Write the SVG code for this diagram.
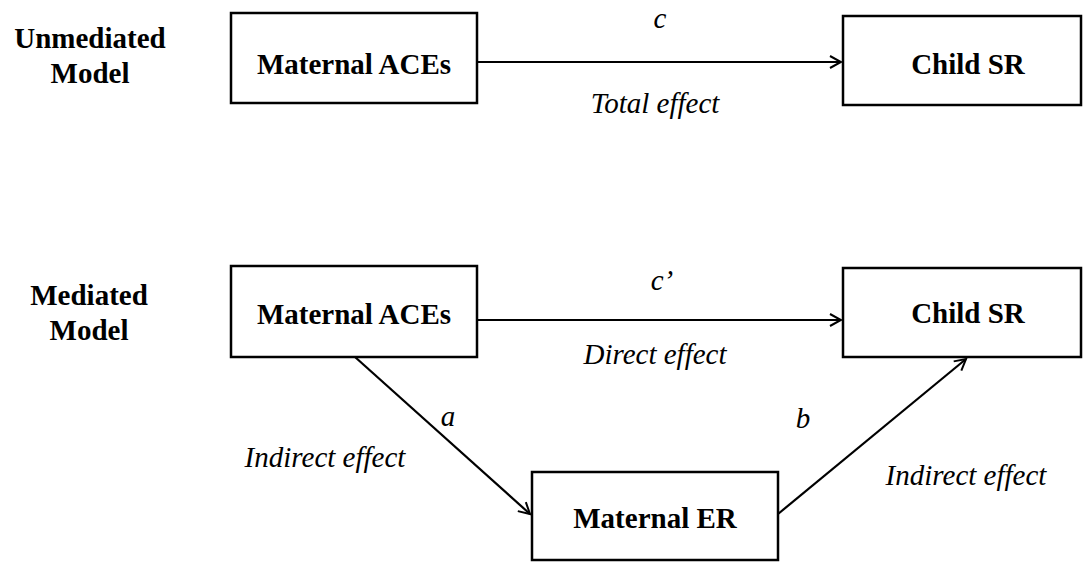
<svg xmlns="http://www.w3.org/2000/svg" width="1083" height="563" viewBox="0 0 1083 563">
<defs>
<marker id="arr" markerWidth="14" markerHeight="14" refX="12" refY="7" orient="auto" markerUnits="userSpaceOnUse">
<path d="M1,1 L12,7 L1,13" fill="none" stroke="#000" stroke-width="2"/>
</marker>
</defs>
<style>
.box{fill:#fff;stroke:#000;stroke-width:2.5}
.nl{font-family:"Liberation Serif","Times New Roman",serif;font-weight:bold;font-size:29px;text-anchor:middle}
.lab{font-family:"Liberation Serif","Times New Roman",serif;font-style:italic;font-size:29px;text-anchor:middle}
.ttl{font-family:"Liberation Serif","Times New Roman",serif;font-weight:bold;font-size:29px;text-anchor:middle}
.edge{stroke:#000;stroke-width:2.2;fill:none}
</style>
<rect width="1083" height="563" fill="#fff"/>
<g id="titles">
<text class="ttl" x="90" y="48">Unmediated</text>
<text class="ttl" x="90" y="83">Model</text>
<text class="ttl" x="89" y="305">Mediated</text>
<text class="ttl" x="89" y="340">Model</text>
</g>
<g id="connectors">
<line class="edge" x1="478" y1="62" x2="841" y2="62" marker-end="url(#arr)"/>
<line class="edge" x1="478" y1="320" x2="841" y2="320" marker-end="url(#arr)"/>
<line class="edge" x1="355" y1="357" x2="530" y2="514" marker-end="url(#arr)"/>
<line class="edge" x1="778" y1="514" x2="966" y2="359" marker-end="url(#arr)"/>
<text class="lab" x="660" y="28">c</text>
<text class="lab" x="655" y="113">Total effect</text>
<text class="lab" x="662" y="290">c’</text>
<text class="lab" x="655" y="364">Direct effect</text>
<text class="lab" x="448" y="426">a</text>
<text class="lab" x="803" y="428">b</text>
<text class="lab" x="325" y="467">Indirect effect</text>
<text class="lab" x="966" y="485">Indirect effect</text>
</g>
<g id="top-aces">
<rect class="box" x="231" y="13" width="246" height="90"/>
<text class="nl" x="354" y="74">Maternal ACEs</text>
</g>
<g id="top-childsr">
<rect class="box" x="843" y="16" width="238" height="89"/>
<text class="nl" x="968" y="74">Child SR</text>
</g>
<g id="bot-aces">
<rect class="box" x="231" y="266" width="246" height="91"/>
<text class="nl" x="354" y="324">Maternal ACEs</text>
</g>
<g id="bot-childsr">
<rect class="box" x="843" y="268" width="238" height="89"/>
<text class="nl" x="968" y="323">Child SR</text>
</g>
<g id="maternal-er">
<rect class="box" x="532" y="472" width="246" height="88"/>
<text class="nl" x="655" y="528">Maternal ER</text>
</g>
</svg>
